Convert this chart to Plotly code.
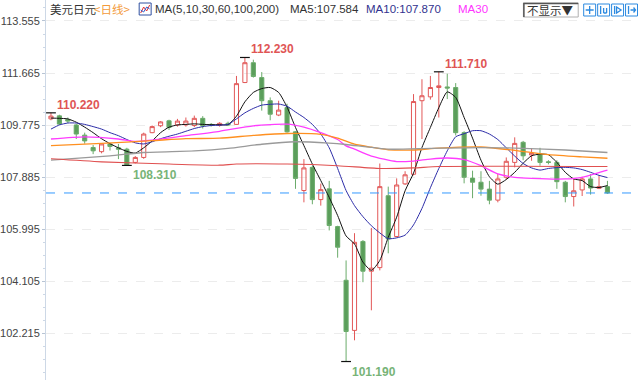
import plotly.graph_objects as go

# ---------------- data ----------------
idx = list(range(67))
opens = [110.00,110.11,109.98,109.78,109.41,108.96,108.81,109.09,108.95,108.90,
         108.42,108.60,109.50,109.75,109.93,109.78,109.78,109.76,110.02,109.80,
         109.76,109.84,109.80,111.32,112.04,111.50,110.66,110.14,110.41,109.53,
         107.40,108.24,107.07,107.46,106.09,104.14,102.32,105.55,104.47,104.60,
         107.21,105.73,107.64,107.99,110.66,110.80,111.14,111.16,111.14,109.50,
         107.85,107.70,107.45,107.05,107.88,108.42,109.15,108.69,108.72,108.44,
         108.42,107.70,107.18,107.42,107.82,107.48,107.54]
highs = [110.22,110.15,110.05,109.82,109.50,109.05,109.12,109.12,109.09,108.95,
         108.65,109.50,109.76,109.92,109.97,110.00,110.05,110.12,110.10,109.85,
         109.88,109.90,111.56,112.23,112.15,111.70,110.78,110.66,110.55,109.55,
         108.54,108.30,107.65,107.75,106.12,104.86,105.85,105.60,106.04,108.38,
         107.54,107.84,108.10,110.90,111.44,111.56,111.71,111.64,111.30,109.55,
         108.12,108.10,107.75,108.00,108.60,109.33,109.20,108.94,108.95,108.50,
         108.50,107.75,107.82,107.90,108.00,107.95,107.75]
lows = [109.95,109.78,109.85,109.27,109.10,108.72,108.75,108.85,108.54,108.31,
        108.38,108.55,109.48,109.70,109.60,109.72,109.72,109.70,109.65,109.72,
        109.72,109.74,109.78,111.30,111.50,110.30,109.95,110.10,109.50,107.46,
        106.97,106.90,106.85,105.95,104.96,101.19,101.96,104.07,103.05,104.50,
        105.12,105.70,107.60,107.95,109.27,110.70,110.05,110.72,109.40,107.66,
        107.12,107.21,106.90,106.97,107.80,108.24,108.50,108.48,108.30,108.35,
        107.46,106.97,106.82,107.20,107.25,107.45,107.28]
closes = [110.10,109.81,109.92,109.45,109.20,108.84,109.09,109.00,108.90,108.33,
          108.60,109.45,109.72,109.89,109.69,109.92,109.92,110.02,109.75,109.77,
          109.84,109.78,111.28,112.04,111.54,110.66,110.17,110.32,109.53,107.84,
          108.22,107.07,107.43,106.13,105.34,102.28,105.52,104.47,104.58,107.54,
          105.64,107.60,107.97,110.63,110.84,111.14,111.20,111.12,109.50,107.88,
          107.70,107.45,107.05,107.82,108.46,109.11,108.66,108.75,108.42,108.42,
          107.72,107.18,107.39,107.82,107.49,107.54,107.31]

ma5 = [110.03,110.02,110.00,109.88,109.70,109.50,109.28,109.10,108.95,108.82,
       108.76,108.95,109.20,109.50,109.70,109.78,109.80,109.82,109.80,109.79,
       109.79,109.79,110.10,110.62,110.96,111.10,111.14,110.96,110.43,109.69,
       109.03,108.36,107.76,107.15,106.49,105.75,105.46,104.80,104.50,104.86,
       105.70,106.43,107.39,108.03,108.96,109.69,110.41,110.98,110.78,110.05,
       109.30,108.50,107.90,107.63,107.80,108.06,108.39,108.66,108.72,108.70,
       108.42,108.06,107.82,107.76,107.54,107.51,107.58]
ma10 = [109.63,109.78,109.85,109.85,109.80,109.72,109.63,109.50,109.39,109.25,
        109.13,109.09,109.17,109.28,109.37,109.45,109.55,109.65,109.72,109.76,
        109.77,109.80,110.00,110.22,110.38,110.50,110.53,110.54,110.46,110.25,
        110.05,109.80,109.45,108.95,108.20,107.40,106.85,106.45,106.12,105.86,
        105.65,105.68,105.78,106.15,106.75,107.50,108.20,108.84,109.35,109.46,
        109.57,109.57,109.45,109.25,108.95,108.65,108.38,108.22,108.14,108.20,
        108.23,108.24,108.22,108.16,108.06,107.95,107.87]
ma30_x = [0,4,8,10,12,16,20,24,28,30,32,34,35,36,38,41,43,45,47,49,51,53,55,57,61,63,65,66]
ma30 = [109.27,109.35,109.27,109.18,109.23,109.39,109.55,109.75,109.81,109.70,109.50,109.25,
        109.02,108.90,108.65,108.45,108.47,108.54,108.58,108.52,108.30,108.00,107.88,107.84,
        107.82,107.88,108.05,108.14]
ma60_x = [0,6,12,16,20,24,28,32,34,36,38,40,43,46,51,55,59,63,66]
ma60 = [109.03,109.11,109.21,109.28,109.30,109.40,109.47,109.44,109.30,109.08,108.97,108.88,
        108.87,108.94,108.98,108.86,108.70,108.62,108.57]
ma100_x = [0,7,11,17,21,25,29,33,35,40,45,51,56,61,66]
ma100 = [108.50,108.66,108.78,108.84,108.93,109.08,109.17,109.12,109.07,108.90,108.93,108.96,
         108.93,108.87,108.78]
ma200_x = [0,6,14,20,22,28,34,39,43,46,66]
ma200 = [108.55,108.44,108.36,108.32,108.36,108.36,108.30,108.20,108.22,108.27,108.27]

mark_idx = [0, 9, 23, 35, 46]
mark_kind = ["high", "low", "high", "low", "high"]

y_ticks = [102.215, 104.105, 105.995, 107.885, 109.775, 111.665, 113.555]

# ---------------- layout helpers ----------------
W, H = 640, 380
L = 44
def xp(px):
    return (px - L) / (W - L)
def yp(py):
    return 1 - py / H

RED = "#e25858"
GREEN = "#5b9e5b"

fig = go.Figure()
fig.add_trace(go.Candlestick(
    x=idx, open=opens, high=highs, low=lows, close=closes,
    increasing=dict(line=dict(color=RED, width=1), fillcolor="rgba(255,255,255,0)"),
    decreasing=dict(line=dict(color="#6aab6a", width=1), fillcolor=GREEN),
    hoverinfo="skip", showlegend=False))

line_specs = [
    (idx, ma5, "#111111", 1.0),
    (idx, ma10, "#2c2ca8", 1.0),
    (ma30_x, ma30, "#ff3cff", 1.3),
    (ma60_x, ma60, "#ff9020", 1.3),
    (ma100_x, ma100, "#9a9a9a", 1.3),
    (ma200_x, ma200, "#e05050", 1.1),
]
for xs, ys, col, w in line_specs:
    fig.add_trace(go.Scatter(x=xs, y=ys, mode="lines",
                             line=dict(color=col, width=w, shape="spline", smoothing=0.6),
                             hoverinfo="skip", showlegend=False))

# extreme markers & labels
mx, my = [], []
for i, k in zip(mark_idx, mark_kind):
    v = highs[i] if k == "high" else lows[i]
    mx.append(i); my.append(v)
    if k == "high":
        fig.add_annotation(x=i, y=v, xref="x", yref="y", text=f"<b>{v:.3f}</b>",
                           showarrow=False, xanchor="left", yanchor="bottom", xshift=4, yshift=-1,
                           font=dict(family="Liberation Sans, Arial", size=12, color="#e05555"))
    else:
        fig.add_annotation(x=i, y=v, xref="x", yref="y", text=f"<b>{v:.3f}</b>",
                           showarrow=False, xanchor="left", yanchor="top", xshift=4, yshift=-1,
                           font=dict(family="Liberation Sans, Arial", size=12, color="#78b478"))
fig.add_trace(go.Scatter(x=mx, y=my, mode="markers",
                         marker=dict(symbol="line-ew", size=7, line=dict(color="#111", width=1.2)),
                         hoverinfo="skip", showlegend=False))

# last price dashed line
fig.add_shape(type="line", xref="paper", yref="y", x0=0, x1=1, y0=closes[-1], y1=closes[-1],
              line=dict(color="#3399ff", width=1, dash="dash"))

# ---------------- header ----------------
hdr = [
    (46, "美元日元", "#333333", "Noto Sans CJK SC", 11.5),
    (90, "<日线>", "#f39a3a", "Noto Sans CJK SC", 11.5),
    (151, "MA(5,10,30,60,100,200)", "#333333", "Liberation Sans, Arial", 11.5),
    (287, "MA5:107.584", "#333333", "Liberation Sans, Arial", 11.5),
    (363, "MA10:107.870", "#33338f", "Liberation Sans, Arial", 11.5),
    (455, "MA30", "#ff33ff", "Liberation Sans, Arial", 11.5),
]
for px, t, c, f, s in hdr:
    fig.add_annotation(x=xp(px), y=yp(9), xref="paper", yref="paper", text=t, showarrow=False,
                       xanchor="left", yanchor="middle", font=dict(family=f, size=s, color=c))

# legend icon
fig.add_shape(type="rect", xref="paper", yref="paper", x0=xp(137.5), x1=xp(149.5), y0=yp(15), y1=yp(3),
              line=dict(color="#3050a0", width=1), fillcolor="white")
fig.add_shape(type="path", xref="paper", yref="paper",
              path=f"M {xp(139)} {yp(13)} L {xp(142)} {yp(7)} L {xp(145)} {yp(11)} L {xp(148)} {yp(5)}",
              line=dict(color="#e03030", width=1))
fig.add_shape(type="path", xref="paper", yref="paper",
              path=f"M {xp(139)} {yp(10)} L {xp(142)} {yp(12)} L {xp(145)} {yp(7)} L {xp(148)} {yp(9)}",
              line=dict(color="#3060d0", width=1))

# "不显示" box
fig.add_shape(type="rect", xref="paper", yref="paper", x0=xp(523), x1=xp(578), y0=yp(17), y1=yp(3),
              line=dict(color="#b0b0b0", width=1), fillcolor="white")
fig.add_shape(type="path", xref="paper", yref="paper",
              path=f"M {xp(523.5)} {yp(17)} L {xp(523.5)} {yp(3.5)} L {xp(578)} {yp(3.5)}",
              line=dict(color="#555555", width=1.5))
fig.add_annotation(x=xp(550.5), y=yp(10), xref="paper", yref="paper", text="不显示▼", showarrow=False,
                   xanchor="center", yanchor="middle",
                   font=dict(family="Noto Sans CJK SC", size=11.5, color="#333333"))

# four blue icons
icon_left = [583.5, 597.5, 611.5, 625.5]
ICON = "#2d8ae0"
for k, x0 in enumerate(icon_left):
    fig.add_shape(type="rect", xref="paper", yref="paper", x0=xp(x0), x1=xp(x0 + 12), y0=yp(16), y1=yp(4),
                  line=dict(color=ICON, width=1), fillcolor="white")
    cx = x0 + 6
    if k == 0:
        p = (f"M {xp(cx)} {yp(6)} L {xp(cx)} {yp(14)} M {xp(x0+2)} {yp(10)} L {xp(x0+10)} {yp(10)}")
    elif k == 1:
        p = (f"M {xp(x0+3)} {yp(6)} L {xp(x0+3)} {yp(14)} M {xp(x0+6)} {yp(8)} L {xp(x0+6)} {yp(13)} "
             f"M {xp(x0+6)} {yp(13)} L {xp(x0+9)} {yp(13)} M {xp(x0+9)} {yp(8)} L {xp(x0+9)} {yp(13)}")
    elif k == 2:
        p = (f"M {xp(x0+3)} {yp(6)} L {xp(x0+3)} {yp(14)} M {xp(x0+5)} {yp(7)} L {xp(x0+9.5)} {yp(10)} "
             f"L {xp(x0+5)} {yp(13)} Z")
    else:
        p = (f"M {xp(x0+3)} {yp(6)} L {xp(x0+3)} {yp(14)} M {xp(x0+5)} {yp(10)} L {xp(x0+10)} {yp(10)} "
             f"M {xp(x0+8)} {yp(7.5)} L {xp(x0+10)} {yp(10)} L {xp(x0+8)} {yp(12.5)}")
    fig.add_shape(type="path", xref="paper", yref="paper", path=p, line=dict(color=ICON, width=1.3))

fig.update_layout(
    width=W, height=H,
    margin=dict(l=L, r=0, t=0, b=0),
    paper_bgcolor="white", plot_bgcolor="white",
    showlegend=False,
    xaxis=dict(range=[-0.59, 69.86], visible=False, rangeslider=dict(visible=False), fixedrange=True),
    yaxis=dict(range=[100.519, 114.317], tickmode="array", tickvals=y_ticks,
               ticktext=[f"{v:.3f}" for v in y_ticks],
               showgrid=True, gridcolor="#ececec", griddash="dash", gridwidth=1,
               zeroline=False, showline=True, linecolor="#cdd8e6", linewidth=1,
               ticks="outside", ticklen=3, tickcolor="#b8c4d4",
               minor=dict(dtick=0.4725, tick0=102.215, ticks="outside", ticklen=2,
                          tickcolor="#cdd8e6", showgrid=False),
               tickfont=dict(family="Liberation Sans, Arial", size=11, color="#444444"),
               fixedrange=True),
)

fig.write_html("out.html", config={"displayModeBar": False},
               post_script="document.body.style.margin='0';document.body.style.overflow='hidden';")
